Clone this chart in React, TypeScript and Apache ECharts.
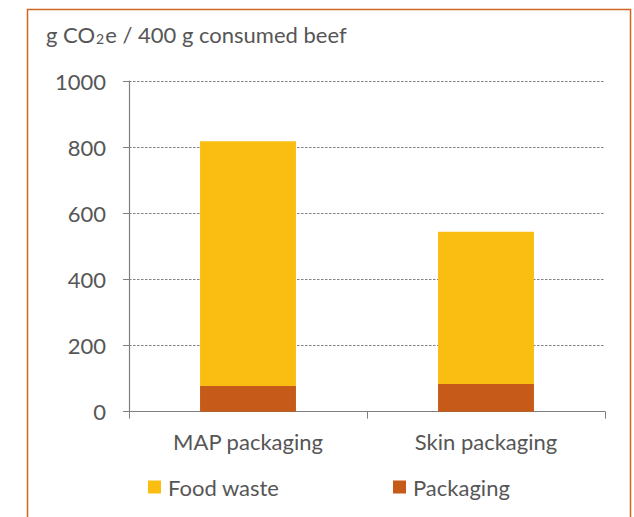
import React, { useEffect, useRef } from "react";
import * as echarts from "echarts";

const categories = ["MAP packaging", "Skin packaging"];
const packaging = [78, 84];
const foodWaste = [740, 460];
const yTicks = [0, 200, 400, 600, 800, 1000];

const TEXT = "#565656";
const FONT = "Lato";
const FS = 22;

export default function App() {
  const ref = useRef<HTMLDivElement>(null);
  useEffect(() => {
    document.body.style.margin = "0";
    const chart = echarts.init(ref.current!, null, { renderer: "svg" });
    chart.setOption({
      animation: false,
      backgroundColor: "#ffffff",
      textStyle: { fontFamily: FONT, color: TEXT },
      title: {
        text: "{a|g CO}{s|2}{a|e / 400 g consumed beef}",
        left: 46,
        top: 23,
        padding: 0,
        textStyle: {
          fontFamily: FONT,
          fontSize: FS,
          fontWeight: "normal",
          color: TEXT,
          rich: {
            a: { fontFamily: FONT, fontSize: FS, color: TEXT, lineHeight: 22, verticalAlign: "top" },
            s: { fontFamily: FONT, fontSize: 14, color: TEXT, lineHeight: 14, verticalAlign: "bottom", padding: [10, 1, 0, 1] },
          },
        },
      },
      graphic: [
        {
          type: "rect",
          shape: { x: 27.5, y: 9.5, width: 603, height: 520 },
          style: { fill: "none", stroke: "#D2651F", lineWidth: 1.5 },
          silent: true,
        },
      ],
      legend: [
        {
          data: ["Food waste"],
          left: 148,
          top: 476,
          padding: 0,
          itemWidth: 13,
          itemHeight: 13,
          icon: "rect",
          textStyle: { fontFamily: FONT, fontSize: FS, color: TEXT, lineHeight: 22, padding: [0, 0, 0, 2] },
        },
        {
          data: ["Packaging"],
          left: 393,
          top: 476,
          padding: 0,
          itemWidth: 13,
          itemHeight: 13,
          icon: "rect",
          textStyle: { fontFamily: FONT, fontSize: FS, color: TEXT, lineHeight: 22, padding: [0, 0, 0, 2] },
        },
      ],
      grid: { left: 129, right: 29, top: 81, bottom: 105.3, containLabel: false },
      xAxis: {
        type: "category",
        data: categories,
        boundaryGap: true,
        axisLine: { show: true, lineStyle: { color: "#7f7f7f", width: 1.2 } },
        axisTick: { show: true, length: 7, alignWithLabel: false, lineStyle: { color: "#7f7f7f" } },
        axisLabel: { fontFamily: FONT, fontSize: FS, color: TEXT, margin: 19 },
      },
      yAxis: {
        type: "value",
        min: 0,
        max: 1000,
        interval: 200,
        axisLine: { show: true, lineStyle: { color: "#7f7f7f", width: 1.2 } },
        axisTick: { show: true, length: 6, lineStyle: { color: "#7f7f7f" } },
        axisLabel: {
          fontFamily: FONT,
          fontSize: FS,
          color: TEXT,
          margin: 23,
          formatter: (v: number) => (yTicks.includes(v) ? String(v) : ""),
        },
        splitLine: { show: true, lineStyle: { color: "#808080", width: 1, type: [2.5, 1.5] } },
      },
      series: [
        {
          name: "Packaging",
          type: "bar",
          stack: "total",
          data: packaging,
          barWidth: "40.3%",
          itemStyle: { color: "#C55A19" },
        },
        {
          name: "Food waste",
          type: "bar",
          stack: "total",
          data: foodWaste,
          barWidth: "40.3%",
          itemStyle: { color: "#FABD12" },
        },
      ],
    });
    return () => chart.dispose();
  }, []);
  return <div ref={ref} style={{ width: 634, height: 517 }} />;
}
